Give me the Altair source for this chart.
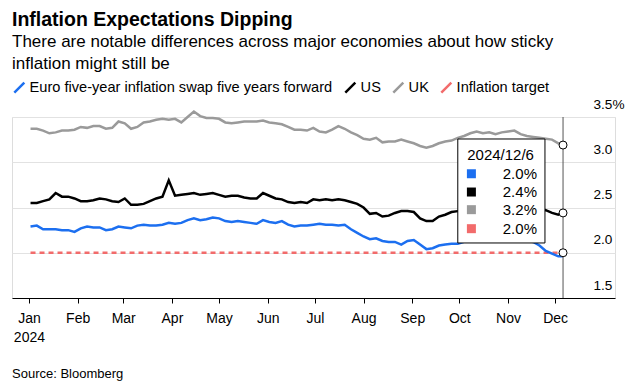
import altair as alt
import pandas as pd

FONT = "Liberation Sans"

TITLE = "Inflation Expectations Dipping"
SUBTITLE = "There are notable differences across major economies about how sticky\ninflation might still be"
SOURCE = "Source: Bloomberg"

SERIES = ["Euro five-year inflation swap five years forward", "US", "UK", "Inflation target"]
COLORS = ["#1c6ff0", "#000000", "#9a9a9a", "#f26b6b"]

# observation dates: every 4 days from Jan 2, plus the last point (Dec 6)
DATES = [d.strftime("%Y-%m-%dT00:00:00") for d in pd.date_range("2024-01-02", periods=85, freq="4D")] + ["2024-12-06T00:00:00"]

EURO = [2.29, 2.30, 2.26, 2.26, 2.26, 2.25, 2.25, 2.23, 2.27, 2.29,
        2.28, 2.28, 2.25, 2.26, 2.29, 2.28, 2.27, 2.30, 2.31, 2.30,
        2.30, 2.31, 2.33, 2.32, 2.33, 2.36, 2.38, 2.36, 2.37, 2.39,
        2.38, 2.35, 2.34, 2.35, 2.34, 2.33, 2.32, 2.36, 2.34, 2.33,
        2.35, 2.31, 2.29, 2.30, 2.30, 2.31, 2.32, 2.31, 2.31, 2.30,
        2.31, 2.26, 2.22, 2.18, 2.15, 2.16, 2.13, 2.12, 2.12, 2.09,
        2.13, 2.14, 2.09, 2.04, 2.05, 2.08, 2.09, 2.10, 2.10, 2.12,
        2.14, 2.13, 2.15, 2.14, 2.16, 2.14, 2.15, 2.13, 2.14, 2.13,
        2.12, 2.08, 2.02, 1.99, 1.96, 1.96]

US = [2.55, 2.55, 2.57, 2.59, 2.66, 2.62, 2.62, 2.60, 2.57, 2.57,
      2.58, 2.60, 2.59, 2.57, 2.56, 2.60, 2.53, 2.53, 2.54, 2.57,
      2.60, 2.62, 2.80, 2.63, 2.64, 2.65, 2.66, 2.64, 2.65, 2.66,
      2.64, 2.62, 2.63, 2.63, 2.61, 2.60, 2.60, 2.66, 2.63, 2.60,
      2.59, 2.56, 2.55, 2.56, 2.55, 2.59, 2.58, 2.59, 2.58, 2.59,
      2.58, 2.56, 2.54, 2.50, 2.43, 2.44, 2.40, 2.41, 2.44, 2.46,
      2.46, 2.45, 2.38, 2.35, 2.35, 2.40, 2.42, 2.45, 2.46, 2.47,
      2.48, 2.49, 2.48, 2.50, 2.51, 2.49, 2.50, 2.52, 2.50, 2.49,
      2.48, 2.49, 2.47, 2.44, 2.42, 2.44]

UK = [3.37, 3.37, 3.35, 3.32, 3.33, 3.35, 3.35, 3.36, 3.39, 3.38,
      3.40, 3.40, 3.37, 3.38, 3.45, 3.43, 3.37, 3.39, 3.44, 3.45,
      3.47, 3.48, 3.47, 3.48, 3.44, 3.50, 3.56, 3.51, 3.49, 3.49,
      3.48, 3.44, 3.43, 3.44, 3.45, 3.45, 3.45, 3.46, 3.44, 3.43,
      3.42, 3.39, 3.36, 3.36, 3.35, 3.38, 3.34, 3.33, 3.36, 3.40,
      3.37, 3.33, 3.30, 3.26, 3.25, 3.27, 3.22, 3.23, 3.23, 3.25,
      3.23, 3.21, 3.18, 3.16, 3.18, 3.21, 3.23, 3.24, 3.27, 3.29,
      3.32, 3.34, 3.32, 3.33, 3.31, 3.33, 3.34, 3.35, 3.31, 3.29,
      3.28, 3.27, 3.26, 3.25, 3.21, 3.19]

TARGET = [2.0] * len(DATES)

MONTH_TICKS = [alt.DateTime(year=2024, month=m, date=1) for m in range(1, 13)]
Y_TICKS = [1.5, 2.0, 2.5, 3.0, 3.5]

# tooltip annotation (hover state at the last date)
TIP_DATE = "2024-12-06T00:00:00"
TIP_HEADER = "2024/12/6"
TIP_LEFT, TIP_RIGHT = "2024-09-30T00:00:00", "2024-11-24T12:00:00"
TIP_TOP, TIP_BOTTOM = 3.257, 2.108
TIP_HEAD_X, TIP_HEAD_Y = "2024-10-06T00:00:00", 3.08
TIP_SWATCH_X = "2024-10-08T16:00:00"
TIP_VALUE_X = "2024-11-19T10:00:00"
TIP_ROW_Y = [2.873, 2.671, 2.476, 2.266]

ALL = [EURO, US, UK, TARGET]

df = pd.DataFrame({
    "date": DATES * 3,
    "series": sum([[s] * len(DATES) for s in SERIES[:3]], []),
    "value": EURO + US + UK,
})
df_target = pd.DataFrame({"date": DATES, "value": TARGET})

x_scale = alt.Scale(domain=[alt.DateTime(year=2023, month=12, date=21, hours=5),
                            alt.DateTime(year=2025, month=1, date=8, hours=2)])
y_scale = alt.Scale(domain=[1.5, 3.5], nice=False, zero=False)

x_axis = alt.Axis(values=MONTH_TICKS, title=None, grid=False,
                  labelExpr="month(datum.value) == 0 ? [timeFormat(datum.value, '%b'), timeFormat(datum.value, '%Y')] : timeFormat(datum.value, '%b')",
                  tickSize=5, tickColor="#000", domainColor="#000", labelColor="#000",
                  labelFontSize=14, labelFont=FONT, labelPadding=8, labelLineHeight=19,
                  labelFlush=False, labelOverlap=False)
y_axis = alt.Axis(orient="right", values=Y_TICKS, title=None, grid=True, gridColor="#e2e2e2",
                  domain=False, ticks=False, tickSize=0,
                  labelExpr="datum.value == 3.5 ? format(datum.value, '.1f') + '%' : format(datum.value, '.1f')",
                  labelPadding=-22, labelAlign="left", labelBaseline="alphabetic", labelOffset=-9,
                  labelFontSize=13.6, labelFont=FONT, labelColor="#000", labelFlush=False)

target = alt.Chart(df_target).mark_line(strokeWidth=2.5, color=COLORS[3], strokeDash=[5, 4]).encode(
    x=alt.X("date:T", scale=x_scale, axis=x_axis),
    y=alt.Y("value:Q", scale=y_scale, axis=y_axis),
)

lines = alt.Chart(df).mark_line(strokeWidth=2.5).encode(
    x=alt.X("date:T", title=None),
    y=alt.Y("value:Q", title=None),
    color=alt.Color("series:N", scale=alt.Scale(domain=SERIES, range=COLORS),
                    legend=alt.Legend(orient="none", legendX=0, legendY=-37, direction="horizontal",
                                      columns=4, title=None, symbolType="M-1,1L1,-1", symbolSize=100,
                                      symbolStrokeWidth=2.5, labelFontSize=14.6, labelFont=FONT,
                                      labelColor="#000", labelLimit=600, labelOffset=3,
                                      columnPadding=7, padding=0)),
    order=alt.Order("date:T"),
)

rule = alt.Chart(pd.DataFrame({"date": [TIP_DATE]})).mark_rule(color="#555555", strokeWidth=1).encode(
    x=alt.X("date:T", title=None))

box = alt.Chart(pd.DataFrame({"x1": [TIP_LEFT], "x2": [TIP_RIGHT], "y1": [TIP_TOP], "y2": [TIP_BOTTOM]})).mark_rect(
    fill="white", stroke="#000", strokeWidth=1).encode(
    x=alt.X("x1:T", title=None), x2="x2:T", y=alt.Y("y1:Q", title=None), y2="y2:Q")

head = alt.Chart(pd.DataFrame({"x": [TIP_HEAD_X], "y": [TIP_HEAD_Y], "t": [TIP_HEADER]})).mark_text(
    align="left", baseline="middle", fontSize=15, font=FONT, color="#000").encode(
    x=alt.X("x:T", title=None), y=alt.Y("y:Q", title=None), text="t:N")

rows = pd.DataFrame({
    "sx": [TIP_SWATCH_X] * 4,
    "vx": [TIP_VALUE_X] * 4,
    "ry": TIP_ROW_Y,
    "hex": COLORS,
    "label": [f"{s[-1]:.1f}%" for s in ALL],
})
swatches = alt.Chart(rows).mark_point(shape="square", filled=True, size=81, opacity=1, strokeWidth=0).encode(
    x=alt.X("sx:T", title=None), y=alt.Y("ry:Q", title=None), color=alt.Color("hex:N", scale=None))
values = alt.Chart(rows).mark_text(align="right", baseline="middle", fontSize=15, font=FONT, color="#000").encode(
    x=alt.X("vx:T", title=None), y=alt.Y("ry:Q", title=None), text="label:N")

dots = alt.Chart(pd.DataFrame({"date": [TIP_DATE] * 3, "value": [UK[-1], US[-1], TARGET[-1]]})).mark_circle(
    size=64, color="white", stroke="#000", strokeWidth=1, opacity=1).encode(
    x=alt.X("date:T", title=None), y=alt.Y("value:Q", title=None))

title = alt.Chart(pd.DataFrame({"t": [TITLE]})).mark_text(
    align="left", baseline="alphabetic", fontSize=19.5, fontWeight="bold", font=FONT, color="#000").encode(
    text="t:N", x=alt.value(0), y=alt.value(-91.5))
subtitle = alt.Chart(pd.DataFrame({"t": [SUBTITLE]})).mark_text(
    align="left", baseline="alphabetic", fontSize=17, font=FONT, color="#000", lineBreak="\n", lineHeight=22).encode(
    text="t:N", x=alt.value(0), y=alt.value(-70))
source = alt.Chart(pd.DataFrame({"t": [SOURCE]})).mark_text(
    align="left", baseline="alphabetic", fontSize=13, font=FONT, color="#000").encode(
    text="t:N", x=alt.value(0), y=alt.value(261))

chart = alt.layer(target, lines, rule, box, head, swatches, values, dots, title, subtitle, source).properties(
    width=603, height=181,
    autosize=alt.AutoSizeParams(type="none"),
    padding={"left": 4, "top": 109, "right": 10, "bottom": 84},
).configure_view(stroke=None).configure(font=FONT)

chart.save("out.html", embed_options={"renderer": "svg", "actions": False})
